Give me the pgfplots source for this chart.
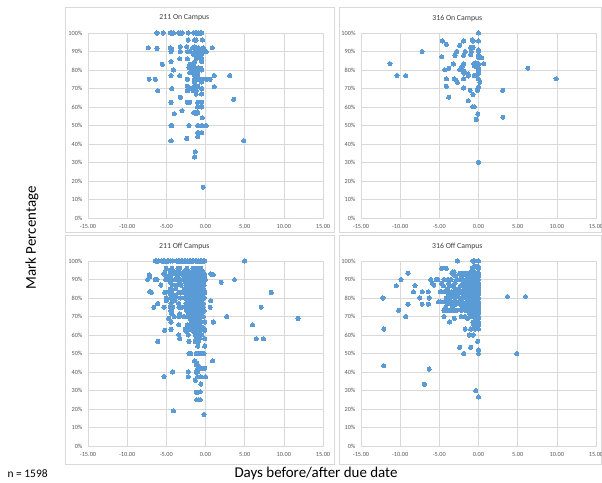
\documentclass[border=0pt]{standalone}
\usepackage{pgfplots}
\pgfplotsset{compat=1.18}
\usepackage{fontspec}
\setmainfont{Carlito}
\definecolor{pt}{HTML}{5B9BD5}
\definecolor{grd}{HTML}{D9D9D9}
\definecolor{txt}{HTML}{595959}

\pgfplotsset{panel/.style={
  scale only axis, width=235bp, height=185bp,
  xmin=-15, xmax=15, ymin=0, ymax=100,
  xtick={-15,-10,...,15},
  xticklabels={-15.00,-10.00,-5.00,0.00,5.00,10.00,15.00},
  ytick={0,10,...,100},
  yticklabels={0\%,10\%,20\%,30\%,40\%,50\%,60\%,70\%,80\%,90\%,100\%},
  grid=major, grid style={grd, line width=0.6bp},
  axis line style={grd, line width=0.6bp},
  major tick length=0pt,
  tick label style={font=\fontsize{6.3}{7}\selectfont, text=txt},
  xticklabel style={yshift=-2.5bp},
  yticklabel style={xshift=-2bp},
  title style={font=\fontsize{7.8}{9}\selectfont, text=black!75, at={(0.41,1)}, anchor=center, yshift=9bp},
  clip=false,
}, dots/.style={only marks, mark=*, mark size=2.1bp, mark options={fill=pt, draw=pt, line width=0pt}}}

\begin{document}
\begin{tikzpicture}
\useasboundingbox (0,0) rectangle (602bp,483bp);
\fill[white] (0,0) rectangle (602bp,483bp);
% panel frames
\draw[grd, line width=0.7bp] (65bp,476bp) rectangle (334bp,251bp);
\draw[grd, line width=0.7bp] (339bp,476bp) rectangle (601bp,251bp);
\draw[grd, line width=0.7bp] (65bp,248bp) rectangle (334bp,19bp);
\draw[grd, line width=0.7bp] (339bp,248bp) rectangle (601bp,19bp);

% 211 On Campus
\begin{axis}[panel, at={(88bp,265bp)}, anchor=south west, title={211 On Campus}]
\addplot[dots] coordinates {
(-6.2,100)(-5.4,100)(-4.5,100)(-4.3,100)(-4.1,100)(-3.4,100)(-3.2,100)(-3.0,100)(-2.2,100)(-1.5,100)(-1.3,100)(-1.1,100)(-0.9,100)(-0.7,100)(-0.5,100)
(-2.2,96.2)(-1.4,96.2)(-1.2,96.2)(-0.4,96.2)
(-7.3,92)(-6.2,91.7)(-4.5,92)(-4.3,91.5)(-3.2,92.6)(-2.4,92.6)(-1.6,92)(-1.4,92.6)(-1.2,91.5)(-0.9,92)(-0.5,91.5)(-0.3,92)(0.85,92)
(-4.4,90)(-3.2,90)(-2.3,90)(-2.0,90)(-1.4,90)(-1.2,90)(-1.0,90)(-0.8,89.5)(-0.6,90)(-0.3,90)(0.1,90)
(-1.5,88.5)(-1.2,88.5)(-0.9,88)(-0.5,88.5)
(-3.3,86)(-2.3,86)(-1.2,86)(-1.0,86.5)(-0.5,86)
(-4.4,84.5)(-1.4,84.5)(-0.5,84.5)
(-5.5,83)(-2.0,83)(-1.5,83)
(-2.1,81.3)(-1.4,81.3)(-1.2,80.8)(-0.9,81.3)(-0.6,81)
(-4.1,80)(-1.8,80)(-1.5,80)(-1.0,80)(-0.5,80)
(-2.0,78.5)(-1.4,78.5)(-1.0,78.5)
(-4.4,77)(-3.3,77)(-1.4,77)(-1.0,77)(1.1,77)(3.1,77)
(-7.2,75)(-6.4,75)(-2.3,75)(-1.4,75)(-1.0,75)(-0.4,75)(0.1,75)(0.6,75)
(-1.4,73.5)(-0.5,73.5)
(-2.3,71.2)(-1.4,71.2)(-1.0,71.2)(1.1,71)
(-4.3,70)(-1.9,70)(-1.2,70)(-0.5,70)
(-6.1,68.8)(-2.3,68.8)(-1.6,69)(-1.2,68.8)
(-1.2,67)(-0.5,67)
(-3.2,65.3)(3.6,64.2)
(-4.4,62.5)(-2.3,62.5)(-2.0,62.5)(-1.0,62.5)(-0.5,62.5)
(-1.0,60)(-0.5,60)
(-3.0,58)(-1.5,57)(-1.2,57)(-1.0,57)
(-4.0,56.3)(-1.2,56.3)(-0.4,54.2)
(-4.4,50)(-4.3,50)(-2.1,50)(-1.0,50)(-0.5,50)(0.1,50)
(-1.0,46.2)(-0.5,46.2)(-1.0,44)(-2.4,43)
(-4.4,41.7)(4.9,41.7)
(-1.3,35.8)(-1.4,33)(-0.3,16.7)
};
\end{axis}

% 316 On Campus
\begin{axis}[panel, at={(361bp,265bp)}, anchor=south west, title={316 On Campus}]
\addplot[dots] coordinates {
(0,100)
(-4.6,95.7)(-4.1,93.9)(-1.9,95.7)(-0.8,96.4)(-0.7,95.7)(0,95.7)
(-2.4,93.3)
(-7.2,90)(-2.8,90)(-1.7,90)(-1.0,92.2)(-0.7,92.2)(-0.9,90)(0,91)(0,90)
(-4.7,87.1)(-3.0,87.9)(-1.9,87.9)(-1.0,88.3)(0,88)(0,86.8)(0.43,86.6)
(-11.3,83.4)(-3.2,83.2)(-1.9,83.2)(-0.6,83.4)(-0.35,83.8)(0,83.4)(0.65,83.4)
(-4.3,80.1)(-3.8,80.9)(-2.4,80.1)(-2.1,81.8)(-1.85,79.2)(-0.5,82.2)(-0.25,81.8)(0,81)(0,80)
(6.3,81)
(-1.85,78.4)(-1.3,77.8)(-1.3,76.8)(-0.55,77)(-0.4,77)(0,78.2)
(-10.4,77)(-9.3,77)
(-4.1,75.2)(-3.1,75.2)(-2.9,74.6)(-2.7,73.4)(-1.9,75.2)(0,75.2)(0.17,73.4)
(9.9,75.2)
(-4.1,71.2)(0,71)(-0.1,70)(-0.1,69)
(-1.9,70.3)(-1.07,69)(3.1,69)
(-0.7,66.7)(-3.8,65.3)(-1.3,63.4)
(-0.75,60.1)(-0.55,60.1)
(-0.1,56.2)(-0.3,53.3)(3.1,54.5)
(0,30.2)
};
\end{axis}

% 211 Off Campus
\begin{axis}[panel, at={(88bp,37bp)}, anchor=south west, title={211 Off Campus}]
\addplot[dots] coordinates {
(-6.4,100)(-6.2,100)(-6.0,100)(-5.6,100)(-5.4,100)(-5.2,100)(-4.9,100)(-4.7,100)(-4.5,100)(-4.2,100)(-3.7,100)(-3.5,100)(-3.3,100)(-3.1,100)(-2.9,100)(-2.7,100)(-2.5,100)(-2.3,100)(-2.1,100)(-1.9,100)(-1.7,100)(-1.5,100)(-1.3,100)(-1.1,100)(-0.9,100)(-0.7,100)(-0.5,100)(-0.3,100)(-0.1,100)(5.0,100)
(-5.0,96)(-4.3,96)(-3.5,96)(-3.3,96)(-2.4,96)(-1.6,96)(-1.4,96)(-1.2,96)(-1.0,96)(-0.8,96)(-0.6,96)
(-5.2,94)(-4.5,94)(-3.9,94)(-3.4,94)(-2.8,94)(-2.4,94)(-2.1,94)(-1.8,94)(-1.5,94)(-1.3,94)(-1.1,94)(-0.9,94)(-0.7,94)(-0.5,94)(-0.3,94)
(-7.2,92.5)(-5.3,93)(-4.2,93)(-3.0,93)(-2.6,93)(-2.2,93)(-1.9,93)(-1.6,93)(-1.4,93)(-1.2,93)(-1.0,93)(-0.8,93)(-0.6,93)(-0.4,93)(-0.2,93)(0.7,93)(1.0,92.5)
(-7.1,91.5)(-5.0,92)(-4.5,92)(-3.6,92)(-2.7,92)(-2.3,92)(-2.0,92)(-1.7,92)(-1.5,92)(-1.3,92)(-1.1,92)(-0.9,92)(-0.7,92)(-0.5,92)(-0.3,92)(-0.1,92)
(-7.4,90)(-6.4,90)(-6.2,90)(-5.1,90)(-4.8,90)(-4.3,90)(-3.9,90)(-3.5,90)(-3.2,90)(-2.9,90)(-2.6,90)(-2.3,90)(-2.0,90)(-1.8,90)(-1.6,90)(-1.4,90)(-1.2,90)(-1.0,90)(-0.8,90)(-0.6,90)(-0.4,90)(-0.2,90)(0.0,90)(3.7,90)
(-4.5,88.5)(-3.3,88.5)(-2.6,88.5)(-2.2,88.5)(-1.9,88.5)(-1.6,88.5)(-1.3,88.5)(-1.1,88.5)(-0.9,88.5)(-0.6,88.5)(-0.3,88.5)(2.0,88.5)
(-5.7,87)(-4.2,87)(-3.6,87)(-3.1,87)(-2.4,87)(-2.0,87)(-1.7,87)(-1.4,87)(-1.2,87)(-1.0,87)(-0.8,87)(-0.5,87)(-0.2,87)
(-4.5,85)(-3.8,85)(-2.7,85)(-2.2,85)(-1.9,85)(-1.5,85)(-1.2,85)(-0.9,85)(-0.6,85)(-0.3,85)
(-7.1,83.5)(-6.9,83)(-5.2,83)(-4.6,83)(-4.3,83)(-3.4,83)(-3.1,83)(-2.6,83)(-2.3,83)(-2.0,83)(-1.8,83)(-1.5,83)(-1.3,83)(-1.1,83)(-0.9,83)(-0.7,83)(-0.4,83)(-0.1,83)(8.4,83)
(-4.4,81.5)(-3.8,81.5)(-2.4,81.5)(-2.0,81.5)(-1.6,81.5)(-1.3,81.5)(-1.0,81.5)(-0.7,81.5)(-0.4,81.5)
(-5.0,80)(-4.4,80)(-3.9,80)(-3.2,80)(-2.7,80)(-2.2,80)(-1.9,80)(-1.6,80)(-1.4,80)(-1.2,80)(-1.0,80)(-0.8,80)(-0.5,80)(-0.2,80)
(-5.0,78.5)(-3.9,78.5)(-2.3,78.5)(-1.8,78.5)(-1.4,78.5)(-1.1,78.5)(-0.8,78.5)(-0.5,78.5)(0.65,78.5)
(-6.1,77)(-4.4,77)(-3.4,77)(-2.5,77)(-2.0,77)(-1.6,77)(-1.3,77)(-1.0,77)(-0.7,77)(-0.3,77)
(-6.6,75)(-5.3,75)(-4.5,75)(-4.2,75)(-3.4,75)(-3.1,75)(-2.6,75)(-2.3,75)(-2.0,75)(-1.7,75)(-1.4,75)(-1.2,75)(-1.0,75)(-0.8,75)(-0.6,75)(-0.3,75)(0.6,75)(7.1,75)
(-4.4,73)(-2.4,73)(-1.9,73)(-1.5,73)(-1.1,73)(-0.8,73)(-0.5,73)(-0.2,73)
(-4.3,71.5)(-3.3,71.5)(-2.2,71.5)(-1.6,71.5)(-1.2,71.5)(-0.9,71.5)(-0.6,71.5)
(-4.0,70)(-3.4,70)(-2.8,70)(-2.3,70)(-1.9,70)(-1.5,70)(-1.2,70)(-0.9,70)(-0.6,70)(-0.3,70)(2.7,70)
(-4.7,69)(-2.0,69)(-1.4,69)(-1.0,69)(-0.7,69)(11.8,69)
(-4.4,67)(-1.8,67)(-1.2,67)(-0.9,67)(-0.6,67)(-0.1,67)(1.0,67)
(-3.4,65.5)(-2.3,65.5)(-1.7,65.5)(-1.1,65.5)(-0.8,65.5)(6.0,65.5)
(-2.1,64)(-1.5,64)(-1.0,64)(-0.6,64)(-0.3,64)
(-5.2,62.5)(-4.4,63)(-2.6,63)(-1.9,63)(-1.2,63)(-0.9,63)
(-2.4,62)(-1.6,62)(-1.1,62)(-0.7,62)(-0.1,62.5)
(-3.4,60)(-2.2,60)(-1.3,60)(-0.9,60)(-0.5,60)
(-3.3,58)(-1.2,58)(-0.8,58)(-0.1,58)(6.5,58)(7.4,58)
(-6.1,56.5)(-2.1,56.5)(-1.3,56.5)(-0.9,56.5)
(-1.0,54)(-0.1,54)
(-2.1,50)(-1.9,50)(-1.2,50)(-1.0,50)(-0.8,50)(-0.6,50)(-0.4,50)(-0.2,50)
(-1.4,46)(-1.1,45)(0.9,46)
(-1.2,44)(-0.9,43.5)
(-1.0,42)(-0.7,42)(-0.4,42)(-0.1,42)
(-4.2,40)(-2.2,40)(-1.2,40)(-1.0,40)
(-5.3,37.5)(-2.2,37.5)(-1.0,37.5)(-0.6,37.5)(0.0,37.5)
(-1.3,35.5)(-0.6,33.5)
(-1.2,29)(-1.0,29)(-0.7,29.3)
(-1.1,25)(-0.9,25)(-0.7,25)
(-4.1,19)(-0.2,17)
};
\end{axis}

% 316 Off Campus
\begin{axis}[panel, at={(361bp,37bp)}, anchor=south west, title={316 Off Campus}]
\addplot[dots] coordinates {
(-2.7,100)(-0.7,100)(-0.5,100)(0,100)
(-0.6,97)(-0.4,97)(-0.2,97)(0,97)
(-4.7,96)(-4.1,96)(-0.8,96)(0,96)
(-3.3,94)(-3.1,94)(-0.9,94)(-0.6,94)
(-9.0,93.4)(-3.4,93.4)(-2.4,93.4)(-2.0,93.4)(-1.7,93.4)(-1.4,93.4)(-1.0,93.4)(-0.5,93.4)(-0.2,93.4)(0,93.4)
(-3.0,92)(-2.2,92)(-1.5,92)(-1.2,92)(-0.8,92)(-0.3,92)(0,92)
(-9.9,90)(-6.1,90)(-5.4,90)(-5.2,90)(-4.4,90)(-3.9,90)(-3.5,90)(-2.8,90)(-2.4,90)(-2.0,90)(-1.6,90)(-1.3,90)(-1.0,90)(-0.7,90)(-0.4,90)(-0.1,90)(0,90)
(-5.9,88)(-4.7,88)(-3.8,88)(-3.0,88)(-2.0,88)(-1.6,88)(-1.2,88)(-0.9,88)(-0.5,88)(0,88)
(-10.5,86.7)(-8.1,86.7)(-5.7,87)(-4.5,86.7)(-3.7,86.7)(-3.3,86.7)(-2.3,86.7)(-1.9,86.7)(-1.5,86.7)(-1.1,86.7)(-0.8,86.7)(-0.4,86.7)(0,86.7)
(-4.0,85)(-3.0,85)(-2.6,85)(-1.8,85)(-1.4,85)(-1.0,85)(-0.6,85)(-0.2,85)(0,85)
(-8.3,83.4)(-7.2,83.4)(-6.4,83.4)(-4.9,83.4)(-4.7,83.4)(-4.4,83.4)(-4.0,83.4)(-3.7,83.4)(-3.4,83.4)(-3.1,83.4)(-2.8,83.4)(-2.5,83.4)(-2.2,83.4)(-1.9,83.4)(-1.6,83.4)(-1.3,83.4)(-1.0,83.4)(-0.7,83.4)(-0.4,83.4)(-0.1,83.4)(0,83.4)
(-3.8,82)(-3.2,82)(-2.6,82)(-1.9,82)(-1.4,82)(-1.0,82)(-0.6,82)(-0.3,82)(0,82)
(3.7,80.8)(6.0,80.8)
(-12.2,80)(-7.5,80)(-6.3,80)(-4.1,80)(-3.6,80)(-3.0,80)(-2.4,80)(-2.0,80)(-1.6,80)(-1.2,80)(-0.9,80)(-0.5,80)(-0.2,80)(0,80)
(-5.1,78)(-4.8,78)(-4.4,78)(-3.9,78)(-3.2,78)(-2.6,78)(-2.1,78)(-1.5,78)(-1.1,78)(-0.7,78)(-0.3,78)(0,78)
(-9.0,76.7)(-7.2,76.7)(-6.4,76.7)(-4.0,76.7)(-3.5,76.7)(-2.9,76.7)(-2.3,76.7)(-1.8,76.7)(-1.3,76.7)(-0.9,76.7)(-0.5,76.7)(0,76.7)
(-4.2,75)(-3.3,75)(-2.0,75)(-1.4,75)(-0.8,75)(-0.4,75)(0,75)
(-10.2,73.3)(-4.4,73.3)(-4.0,73.3)(-3.6,73.3)(-3.2,73.3)(-2.8,73.3)(-2.2,73.3)(-1.6,73.3)(-1.0,73.3)(-0.6,73.3)(-0.2,73.3)(0,73.3)
(-1.2,72)(-0.7,72)(-0.3,72)(0,72)
(-9.3,70)(-4.4,70)(-2.2,70)(-1.7,70)(-1.1,70)(-0.6,70)(-0.2,70)(0,70)
(-3.1,69)(-1.4,69)(-0.4,69)(0,69)
(-3.7,67)(-0.7,67)(-0.4,67)(-0.1,67)(0,67)
(-0.6,65.5)(-0.3,65.5)(0,65.5)
(-12.1,63.2)(-1.7,63.2)(-1.0,63.2)(-0.4,63.2)(0,63.2)
(-1.2,60)(-0.7,60)
(-0.1,56.6)(-2.4,53.3)(-1.0,53.3)(0,52)
(-1.9,50)(0,50)(4.9,50)
(-12.1,43.4)(-6.3,41.6)(-6.9,33.4)
(-0.35,30)(0,26.5)
};
\end{axis}

\node[font=\fontsize{15}{18}\selectfont, rotate=90] at (32bp,245bp) {Mark Percentage};
\node[font=\fontsize{15}{18}\selectfont] at (316bp,9bp) {Days before/after due date};
\node[font=\fontsize{11.5}{14}\selectfont, anchor=west] at (4bp,9bp) {n = 1598};
\end{tikzpicture}
\end{document}
